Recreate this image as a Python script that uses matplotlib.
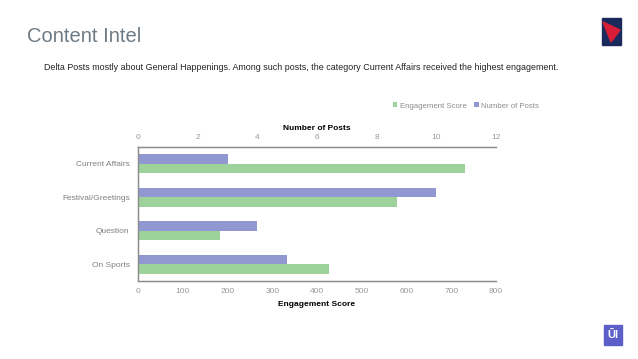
import matplotlib
matplotlib.use("Agg")
import matplotlib.pyplot as plt
from matplotlib.patches import Rectangle, Polygon
import numpy as np

categories = ["On Sports", "Question", "Festival/Greetings", "Current Affairs"]
engagement = [426, 183, 579, 731]
num_posts = [5, 4, 10, 3]
x_eng_ticks = [0, 100, 200, 300, 400, 500, 600, 700, 800]
x_post_ticks = [0, 2, 4, 6, 8, 10, 12]

GREEN = "#9dd39b"
PURPLE = "#9198d1"
TICK_C = "#999999"
SPINE_C = "#8c8c8c"

W, H = 638, 359
fig = plt.figure(figsize=(W / 100, H / 100), dpi=100)
plt.rcParams['font.family'] = ['Liberation Sans', 'DejaVu Sans']

def fx(px):
    return px / W

def fy(py):
    return 1 - py / H

# plot area
left, right, top, bottom = 138, 496, 147, 281
ax = fig.add_axes([fx(left), fy(bottom), fx(right - left), (bottom - top) / H])
y = np.arange(len(categories))
bh = 0.28
ax.barh(y - bh / 2, engagement, height=bh, color=GREEN, label="Engagement Score", zorder=2)
ax.set_xlim(0, 800)
ax.set_xticks(x_eng_ticks)
ax.set_ylim(-0.5, len(categories) - 0.5)
ax.set_yticks(y)
ax.set_yticklabels(categories)
ax2 = ax.twiny()
ax2.barh(y + bh / 2, num_posts, height=bh, color=PURPLE, label="Number of Posts", zorder=2)
ax2.set_xlim(0, 12)
ax2.set_xticks(x_post_ticks)

for a in (ax, ax2):
    a.tick_params(axis='both', length=0, labelsize=6, labelcolor=TICK_C, pad=5)
    a.spines['right'].set_visible(False)
    for s in ('left', 'top', 'bottom'):
        a.spines[s].set_color(SPINE_C)
        a.spines[s].set_linewidth(0.9)
ax.tick_params(axis='y', labelcolor="#808080", pad=6)
ax2.tick_params(axis='x', pad=4)

ax.set_xlabel("Engagement Score", fontsize=6, fontweight='bold', color="black", labelpad=4)
ax2.set_xlabel("Number of Posts", fontsize=6, fontweight='bold', color="black", labelpad=3)

# legend
h1, l1 = ax.get_legend_handles_labels()
h2, l2 = ax2.get_legend_handles_labels()
fig.legend(h1 + h2, l1 + l2, loc='center', bbox_to_anchor=(fx(466), fy(106)), ncol=2,
           frameon=False, fontsize=5.6, labelcolor="#8c8c8c", handlelength=0.55, handleheight=0.55,
           columnspacing=1.0, handletextpad=0.3)

# title and subtitle
fig.text(fx(27), fy(42), "Content Intel", fontsize=14.5, color="#6e7b85",
         va='baseline', ha='left')
fig.text(fx(44), fy(68), "Delta Posts mostly about General Happenings. Among such posts, the category Current Affairs received the highest engagement.",
         fontsize=6.4, color="#222222", va='center', ha='left')

# logos
fig.patches.append(Rectangle((fx(602), fy(45)), fx(19), (45 - 18) / H, transform=fig.transFigure,
                             color="#1b2a5c", zorder=5))
fig.patches.append(Polygon([(fx(603), fy(22)), (fx(620), fy(30)), (fx(611), fy(42))], closed=True,
                           transform=fig.transFigure, color="#d71e36", zorder=6))
fig.patches.append(Rectangle((fx(604), fy(345)), fx(18), (345 - 325) / H, transform=fig.transFigure,
                             color="#5b5fc7", zorder=5))
fig.text(fx(613), fy(335), "ŪI", fontsize=8, color="white", ha='center', va='center',
         fontweight='bold', zorder=7)

fig.savefig("out.png", dpi=100)
